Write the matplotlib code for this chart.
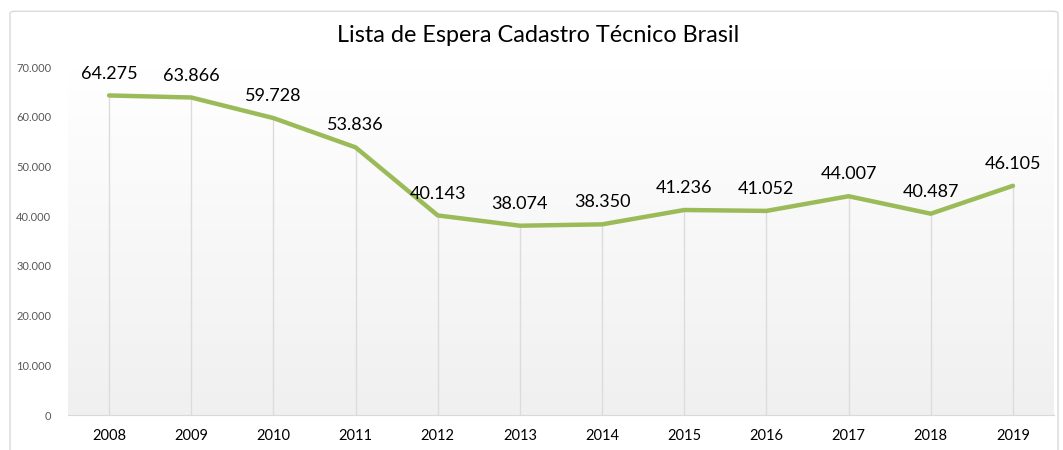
import matplotlib
matplotlib.use("Agg")
import matplotlib.pyplot as plt
import numpy as np
from matplotlib.patches import FancyBboxPatch
from matplotlib.ticker import FuncFormatter

years = ["2008", "2009", "2010", "2011", "2012", "2013",
         "2014", "2015", "2016", "2017", "2018", "2019"]
waiting = [64275, 63866, 59728, 53836, 40143, 38074,
           38350, 41236, 41052, 44007, 40487, 46105]
title = "Lista de Espera Cadastro Técnico Brasil"

plt.rcParams["font.family"] = ["Lato", "DejaVu Sans"]

fig = plt.figure(figsize=(10.63, 4.5), dpi=100)
fig.patch.set_facecolor("white")

# outer chart frame
frame = FancyBboxPatch((10 / 1063, -0.02), 1048 / 1063, 0.995,
                       boxstyle="round,pad=0,rounding_size=0.005",
                       transform=fig.transFigure, facecolor="none",
                       edgecolor="#d9d9d9", linewidth=1.0)
fig.patches.append(frame)

ax = fig.add_axes([68 / 1063, 35 / 450, (1054 - 68) / 1063, (415 - 67) / 450])
x = np.arange(len(years))
ax.set_xlim(-0.5, len(years) - 0.5)
ax.set_ylim(0, 70000)

# gradient background: white at top to light grey at bottom
grad = np.linspace(0.0, 1.0, 256).reshape(-1, 1)
ax.imshow(grad, extent=[-0.5, len(years) - 0.5, 0, 70000], aspect="auto",
          cmap=matplotlib.colors.LinearSegmentedColormap.from_list(
              "bg", ["#f0f0f0", "#ffffff"]), origin="lower", zorder=0)

ax.vlines(x, 0, waiting, color="#dcdcdc", linewidth=1.0, zorder=1)
ax.plot(x, waiting, color="#9bbb59", linewidth=3.2,
        solid_capstyle="round", solid_joinstyle="round", zorder=3)

for xi, v in zip(x, waiting):
    ax.annotate(f"{v:,}".replace(",", "."), (xi, v), xytext=(0, 10),
                textcoords="offset points", ha="center", va="bottom",
                fontsize=13, color="black", zorder=4)

ax.set_xticks(x)
ax.set_xticklabels(years, fontsize=10.5, color="black")
ax.set_yticks(range(0, 70001, 10000))
ax.yaxis.set_major_formatter(FuncFormatter(lambda v, p: f"{int(v):,}".replace(",", ".")))
ax.tick_params(axis="y", labelsize=8, colors="#595959", length=0, pad=12)
ax.tick_params(axis="x", length=0, pad=10)

for side in ["top", "right", "left"]:
    ax.spines[side].set_visible(False)
ax.spines["bottom"].set_color("#d9d9d9")

fig.text(538 / 1063, 1 - 36 / 450, title, ha="center", va="center",
         fontsize=16.8, color="black")

fig.savefig("out.png", dpi=100)
